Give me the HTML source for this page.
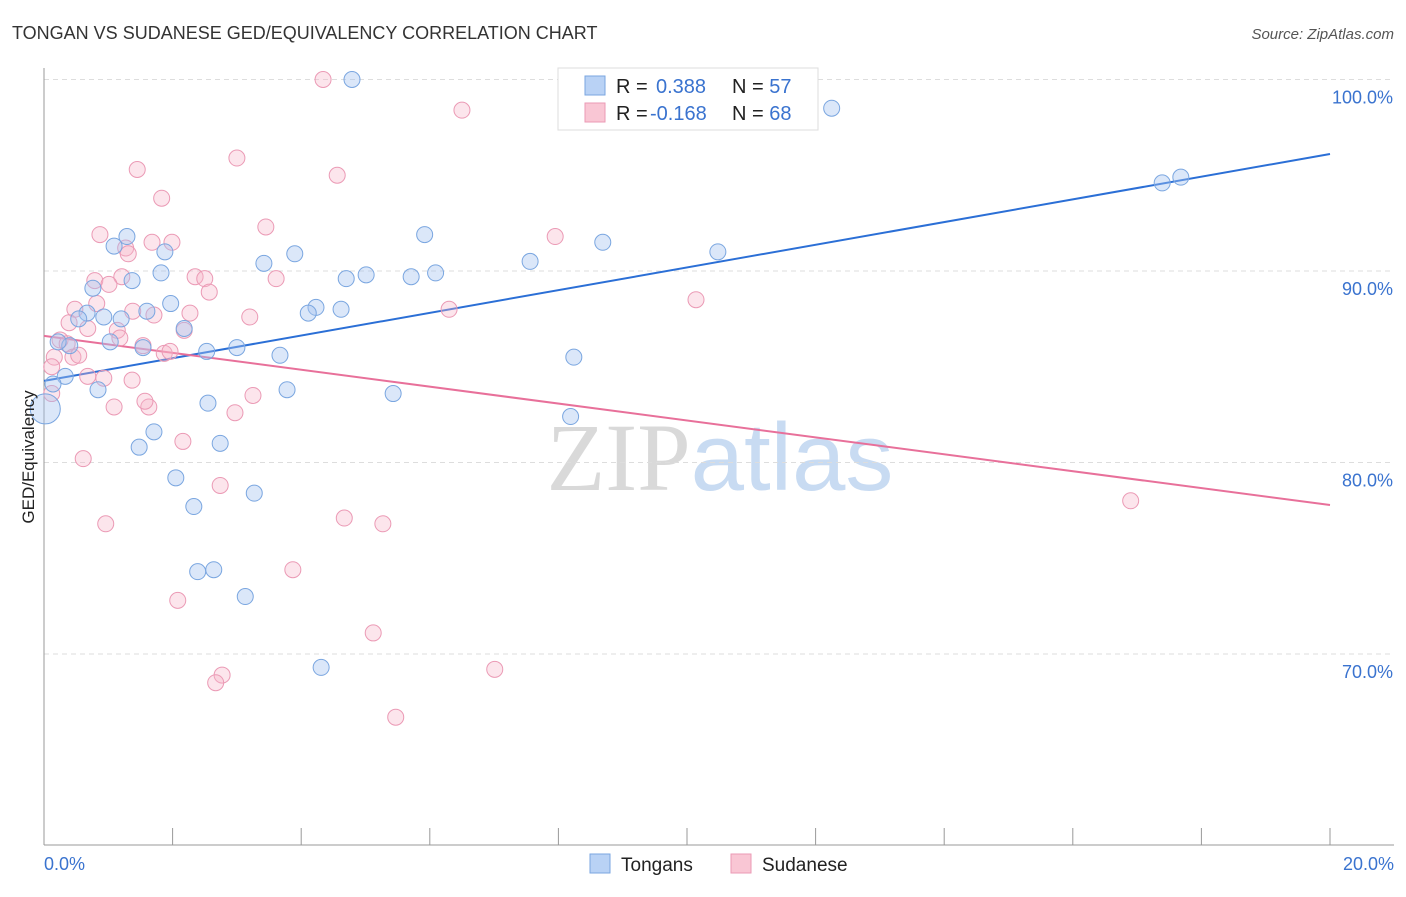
<!DOCTYPE html>
<html><head><meta charset="utf-8"><style>
body{margin:0;background:#fff;font-family:"Liberation Sans",sans-serif;}
svg text{font-family:"Liberation Sans",sans-serif;}
</style></head><body>
<svg id="chart" width="1406" height="892" xmlns="http://www.w3.org/2000/svg">
<text x="12" y="39" font-size="18" fill="#333">TONGAN VS SUDANESE GED/EQUIVALENCY CORRELATION CHART</text>
<text x="1394" y="39" font-size="15" fill="#555" font-style="italic" text-anchor="end">Source: ZipAtlas.com</text>
<text x="720" y="490" font-size="96" fill="#ddd" text-anchor="middle" font-family="Liberation Serif"><tspan fill="#d9d9d9" font-family="Liberation Serif">ZIP</tspan><tspan fill="#c8dbf2" font-family="Liberation Sans">atlas</tspan></text>
<g id="grid"></g>
<g id="axes"></g>
<g id="lines"></g>
<g id="points"></g>
<text transform="translate(34,457) rotate(-90)" font-size="17" fill="#222" text-anchor="middle">GED/Equivalency</text>
<g>
<rect x="558" y="68" width="260" height="62" fill="#fff" stroke="#ddd"/>
<rect x="585" y="76" width="20" height="19" fill="#b9d2f5" stroke="#7aa6e0"/>
<rect x="585" y="103" width="20" height="19" fill="#f9c6d4" stroke="#eb9ab5"/>
<text x="616" y="93" font-size="20" fill="#222">R = <tspan x="656" fill="#3a73cf">0.388</tspan><tspan x="732" fill="#222">N = </tspan><tspan fill="#3a73cf">57</tspan></text>
<text x="616" y="120" font-size="20" fill="#222">R = <tspan x="650" fill="#3a73cf">-0.168</tspan><tspan x="732" fill="#222">N = </tspan><tspan fill="#3a73cf">68</tspan></text>
</g>
<g>
<rect x="590" y="854" width="20" height="19" fill="#b9d2f5" stroke="#7aa6e0"/>
<text x="621" y="871" font-size="19" fill="#222">Tongans</text>
<rect x="731" y="854" width="20" height="19" fill="#f9c6d4" stroke="#eb9ab5"/>
<text x="762" y="871" font-size="19" fill="#222">Sudanese</text>
</g>
</svg>
<script>
const yTicks=[100,90,80,70];
const xTickLabels=["0.0%","20.0%"];
const blueX=[4.79,12.25,17.39,17.68,10.48,8.69,7.56,5.92,6.09,5.71,5.01,4.70,3.90,3.42,4.62,4.23,4.11,3.67,3.00,2.53,2.18,1.97,1.82,1.88,1.29,1.09,1.37,0.76,1.60,1.20,0.93,0.67,0.54,1.03,1.54,0.40,0.22,0.33,0.14,0.02,0.84,2.55,1.71,1.48,2.74,3.78,5.43,8.24,8.19,2.05,2.33,3.27,2.39,2.64,3.13,4.31];
const blueY=[100.0,98.5,94.6,94.9,91.0,91.5,90.5,91.9,89.9,89.7,89.8,89.6,90.9,90.4,88.0,88.1,87.8,85.6,86.0,85.8,87.0,88.3,89.9,91.0,91.8,91.3,89.5,89.1,87.9,87.5,87.6,87.8,87.5,86.3,86.0,86.1,86.3,84.5,84.1,82.8,83.8,83.1,81.6,80.8,81.0,83.8,83.6,85.5,82.4,79.2,77.7,78.4,74.3,74.4,73.0,69.3];
const pinkX=[4.34,6.50,3.00,4.56,1.45,1.83,3.45,7.95,0.87,1.68,1.99,1.27,1.31,0.79,1.21,1.01,2.35,2.50,3.61,2.57,10.14,0.82,6.30,0.48,1.38,1.71,2.27,3.20,0.39,0.68,1.14,2.18,0.25,0.36,1.18,1.54,1.87,1.96,0.16,0.45,0.54,0.12,0.68,0.93,1.37,0.12,1.09,1.63,1.57,2.97,3.25,2.16,0.61,2.74,0.96,4.67,5.27,16.90,3.87,2.08,5.12,7.01,2.77,2.67,5.47];
const pinkY=[100.0,98.4,95.9,95.0,95.3,93.8,92.3,91.8,91.9,91.5,91.5,91.2,90.9,89.5,89.7,89.3,89.7,89.6,89.6,88.9,88.5,88.3,88.0,88.0,87.9,87.7,87.8,87.6,87.3,87.0,86.9,86.9,86.4,86.2,86.5,86.1,85.7,85.8,85.5,85.5,85.6,85.0,84.5,84.4,84.3,83.6,82.9,82.9,83.2,82.6,83.5,81.1,80.2,78.8,76.8,77.1,76.8,78.0,74.4,72.8,71.1,69.2,68.9,68.5,66.7];
const blueLine=[[0,84.26],[20,96.11]];
const pinkLine=[[0,86.61],[20,77.78]];
const NS="http://www.w3.org/2000/svg";
const sx=v=>44+v/20*1286;
const sy=v=>79.5+(100-v)*19.15;
function mk(t,a,p){const e=document.createElementNS(NS,t);for(const k in a)e.setAttribute(k,a[k]);p.appendChild(e);return e;}
const grid=document.getElementById('grid'),axes=document.getElementById('axes'),lines=document.getElementById('lines'),pts=document.getElementById('points');
yTicks.forEach(t=>{
 const l=mk('line',{x1:44,x2:1394,y1:sy(t),y2:sy(t),stroke:'#ddd','stroke-dasharray':'5,4'},grid);
 
 
 const tx=mk('text',{x:1393,y:sy(t)+24,'font-size':18,fill:'#3a73cf','text-anchor':'end'},grid);
 tx.textContent=t.toFixed(1)+'%';
 
 
});
const ya=mk('line',{x1:44,x2:44,y1:68,y2:845,stroke:'#999'},axes);


const xa=mk('line',{x1:44,x2:1394,y1:845,y2:845,stroke:'#999'},axes);


for(let i=0;i<=10;i++){
 const tk=mk('line',{x1:sx(i*2),x2:sx(i*2),y1:828,y2:845,stroke:'#999'},axes);
 
 
}
[[0,'start',44],[1,'end',1394]].forEach(([i,a,x])=>{
 const t=mk('text',{x:x,y:870,'font-size':18,fill:'#3a73cf','text-anchor':a},axes);
 t.textContent=xTickLabels[i];
 
 
});
function dots(X,Y,fill,stroke,name){
 X.forEach((x,i)=>{
  const r=(x<0.05)?15:8;
  const c=mk('circle',{cx:sx(x),cy:sy(Y[i]),r:r,fill:fill,stroke:stroke,'stroke-width':1},pts);
  
  
 });
}
dots(pinkX,pinkY,'rgba(246,180,200,0.35)','#eb9ab5','point-sudanese');
dots(blueX,blueY,'rgba(164,196,240,0.4)','#7aa6e0','point-tongans');
const bl=mk('line',{x1:sx(blueLine[0][0]),y1:sy(blueLine[0][1]),x2:sx(blueLine[1][0]),y2:sy(blueLine[1][1]),stroke:'#2b6fd6','stroke-width':2},lines);


const pl=mk('line',{x1:sx(pinkLine[0][0]),y1:sy(pinkLine[0][1]),x2:sx(pinkLine[1][0]),y2:sy(pinkLine[1][1]),stroke:'#e8709a','stroke-width':2},lines);


</script>
</body></html>
